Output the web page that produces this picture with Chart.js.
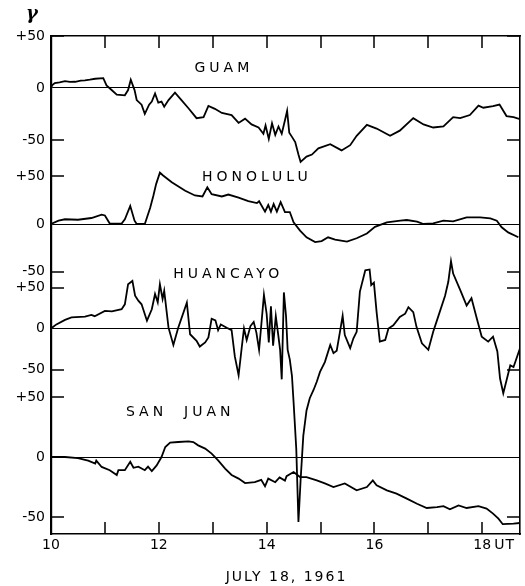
<!DOCTYPE html>
<html>
<head>
<meta charset="utf-8">
<script src="https://cdn.jsdelivr.net/npm/chart.js@4.4.1/dist/chart.umd.min.js"></script>
<style>
  html, body { margin: 0; padding: 0; background: #fff; }
  canvas { display: block; }
</style>
</head>
<body>
<canvas id="chart" width="525" height="586"></canvas>
<script>
// Magnetograms, H component (gamma) vs universal time, 18 July 1961

const guamHours = [10.00, 10.02, 10.07, 10.16, 10.26, 10.35, 10.45, 10.55, 10.63, 10.72, 10.82, 10.97, 11.03, 11.13, 11.22, 11.37, 11.43, 11.48, 11.55, 11.59,
  11.68, 11.74, 11.82, 11.87, 11.93, 11.99, 12.05, 12.10, 12.18, 12.30, 12.42, 12.55, 12.70, 12.83, 12.92, 13.04, 13.17, 13.35, 13.48, 13.60,
  13.72, 13.85, 13.94, 13.98, 14.04, 14.10, 14.16, 14.22, 14.28, 14.34, 14.38, 14.42, 14.47, 14.53, 14.59, 14.63, 14.74, 14.84, 14.96, 15.18,
  15.39, 15.55, 15.67, 15.86, 16.04, 16.29, 16.47, 16.72, 16.91, 17.09, 17.28, 17.46, 17.59, 17.77, 17.93, 18.02, 18.20, 18.32, 18.45, 18.58, 18.70];
const guamGamma = [0, 2.5, 4.7, 5.5, 6.6, 5.8, 6, 7, 7.3, 8, 8.9, 9.4, 2.5, -2.2, -6.3, -7, -2, 7.9, -2, -11.6,
  -16, -24.8, -16, -13, -5.3, -14, -13, -18, -11.6, -4.4, -11.6, -19.5, -29, -28, -17.3, -20, -24, -26, -33.6, -29.5,
  -35, -38, -44, -36, -49, -34, -45, -37, -44, -31, -22, -43, -47, -52, -64, -71, -66, -64, -58, -54,
  -60, -55, -46, -35.5, -39, -46, -41, -29, -35, -38, -37, -28, -29, -26, -17, -19, -17.5, -16, -27, -28, -30];

const honoluluHours = [10.00, 10.14, 10.26, 10.50, 10.75, 10.94, 11.00, 11.09, 11.31, 11.37, 11.47, 11.55, 11.59, 11.74, 11.84, 11.90, 11.95, 12.02, 12.08, 12.24,
  12.49, 12.67, 12.81, 12.90, 12.98, 13.17, 13.29, 13.48, 13.66, 13.82, 13.86, 13.97, 14.03, 14.08, 14.13, 14.19, 14.26, 14.34, 14.43, 14.50,
  14.62, 14.74, 14.90, 15.02, 15.14, 15.27, 15.49, 15.67, 15.86, 16.01, 16.23, 16.48, 16.60, 16.79, 16.91, 17.09, 17.28, 17.46, 17.71, 17.96,
  18.15, 18.27, 18.36, 18.48, 18.67];
const honoluluGamma = [0, 3.5, 5, 4.5, 6.3, 9.8, 9, 0.5, 0.5, 5, 19, 3.5, 0, 0, 17, 30, 42, 54, 51, 44,
  35, 30, 29, 38.6, 31.4, 29, 31, 27.7, 24, 22, 24, 13, 20, 13, 21, 13, 23, 12.6, 12.6, 1.7,
  -7, -14, -19, -18, -14, -16.5, -18.6, -15, -10, -3, 1.8, 3.5, 4.2, 2.5, 0, 0.7, 3.5, 2.8, 7, 7,
  6, 3.5, -3.5, -8.8, -14];

const huancayoHours = [10.00, 10.10, 10.26, 10.38, 10.63, 10.75, 10.81, 11.00, 11.13, 11.31, 11.37, 11.43, 11.51, 11.56, 11.62, 11.68, 11.78, 11.87, 11.93, 11.98,
  12.02, 12.07, 12.10, 12.18, 12.27, 12.36, 12.52, 12.58, 12.70, 12.76, 12.86, 12.92, 12.98, 13.05, 13.10, 13.15, 13.26, 13.35, 13.41, 13.48,
  13.54, 13.58, 13.63, 13.70, 13.76, 13.81, 13.86, 13.91, 13.95, 14.00, 14.04, 14.08, 14.12, 14.17, 14.21, 14.25, 14.28, 14.32, 14.36, 14.39,
  14.43, 14.47, 14.50, 14.55, 14.59, 14.63, 14.68, 14.74, 14.80, 14.87, 14.93, 14.99, 15.08, 15.18, 15.24, 15.30, 15.36, 15.41, 15.45, 15.55,
  15.61, 15.67, 15.73, 15.83, 15.91, 15.94, 15.99, 16.04, 16.10, 16.20, 16.26, 16.35, 16.47, 16.57, 16.63, 16.72, 16.78, 16.88, 17.00, 17.09,
  17.19, 17.31, 17.37, 17.42, 17.46, 17.59, 17.71, 17.80, 17.90, 17.99, 18.11, 18.20, 18.28, 18.33, 18.39, 18.52, 18.58, 18.70];
const huancayoGamma = [0, 5, 10.5, 13.5, 14.5, 16.5, 15, 21.5, 21, 23.5, 29.5, 54, 58, 40, 34, 29.5, 9.5, 23.5, 42, 32,
  54, 36, 46, 1, -20, 1, 31.5, -7, -15, -22, -17, -11, 12, 10, -2, 5, 1, -2, -34, -57,
  -22, 0, -14, 3, 8, -5, -26, 11, 41, 18, -17, 27, -21, 15, -5, -26, -62, 44, 15, -26,
  -38, -58, -90, -147, -236, -185, -131, -100, -85, -75, -65, -53, -41, -20, -30, -27, -4, 15.5, -8, -24,
  -12, -4, 45, 71, 72, 53, 56, 20, -16, -14, 0, 4, 14, 18, 26, 20, 2, -18, -26, -4,
  16, 40, 57, 82, 67, 47, 28, 37, 12, -10, -16, -10, -28, -61, -79, -45, -47, -24];

const sanJuanHours = [10.00, 10.26, 10.50, 10.69, 10.82, 10.84, 10.94, 11.09, 11.22, 11.25, 11.37, 11.47, 11.53, 11.62, 11.74, 11.80, 11.87, 11.96, 12.05, 12.12,
  12.21, 12.36, 12.55, 12.64, 12.73, 12.86, 12.98, 13.10, 13.23, 13.35, 13.48, 13.60, 13.78, 13.90, 13.97, 14.03, 14.16, 14.24, 14.34, 14.37,
  14.50, 14.62, 14.74, 14.93, 15.08, 15.24, 15.45, 15.67, 15.86, 15.97, 16.04, 16.23, 16.41, 16.60, 16.79, 16.97, 17.16, 17.28, 17.40, 17.56,
  17.71, 17.93, 18.08, 18.20, 18.30, 18.38, 18.58, 18.70];
const sanJuanGamma = [0, 0, -1, -3, -5.5, -3, -8.3, -11, -15, -11, -11, -4, -9, -8, -11, -8, -11.7, -7, 0, 8.3,
  12, 12.5, 13, 12.5, 9.7, 7, 2.8, -2.8, -9.7, -15, -18, -21.7, -21, -19, -24.4, -18, -21, -17, -19.7, -16,
  -12.5, -16.7, -16.7, -19.5, -22, -25, -22, -27.8, -25, -19.5, -23.6, -27.8, -30.5, -34.7, -39, -42.5, -41.7, -41, -43.6, -40.3,
  -42.5, -41, -43, -47.2, -51.4, -56, -55.5, -55];

const stationNames = ['GUAM', 'HONOLULU', 'HUANCAYO', 'SAN  JUAN'];
const yTickGammas = [50, 0, -50];
const xTickHours = [10, 11, 12, 13, 14, 15, 16, 17, 18];

// each trace sits on one shared vertical axis: zero = where its baseline is, scale = axis units per gamma
const panels = [
  { hours: guamHours, gamma: guamGamma, zero: 446, scale: 1.04, nameAt: [13.17, 466] },
  { hours: honoluluHours, gamma: honoluluGamma, zero: 310, scale: 0.95, nameAt: [13.78, 357] },
  { hours: huancayoHours, gamma: huancayoGamma, zero: 205.5, scale: 0.82, nameAt: [13.25, 260] },
  { hours: sanJuanHours, gamma: sanJuanGamma, zero: 77, scale: 1.2, nameAt: [12.36, 122] }
];

const yTicks = [];
panels.forEach(p => {
  yTickGammas.forEach(g => {
    yTicks.push({ value: p.zero + g * p.scale, text: g > 0 ? '+' + g : String(g), zero: g === 0 });
  });
});

const datasets = panels.map((p, i) => ({
  label: stationNames[i],
  data: p.hours.map((h, j) => ({ x: h, y: p.zero + p.gamma[j] * p.scale })),
  borderColor: '#000',
  borderWidth: 1.8,
  pointRadius: 0,
  tension: 0,
  fill: false,
  xAxisID: 'x',
  yAxisID: 'y'
}));

const FONT = '"DejaVu Sans", sans-serif';

// inward tick marks on all four sides
const inwardTicks = {
  id: 'inwardTicks',
  afterDatasetsDraw(chart) {
    const { ctx, chartArea: a, scales } = chart;
    const x = scales.x, y = scales.y;
    ctx.save();
    ctx.fillStyle = '#000';
    xTickHours.slice(1).forEach(h => {
      const px = Math.round(x.getPixelForValue(h));
      ctx.fillRect(px - 0.75, a.top, 1.5, 12);
      ctx.fillRect(px - 0.75, a.bottom - 12, 1.5, 12);
    });
    yTicks.filter(t => !t.zero).forEach(t => {
      const py = Math.round(y.getPixelForValue(t.value));
      ctx.fillRect(a.left, py - 0.75, 13, 1.5);
      ctx.fillRect(a.right - 13, py - 0.75, 13, 1.5);
    });
    ctx.restore();
  }
};

// lettering: station names, date, UT, gamma symbol
const lettering = {
  id: 'lettering',
  afterDraw(chart) {
    const { ctx, chartArea: a, scales } = chart;
    const x = scales.x, y = scales.y;
    ctx.save();
    ctx.fillStyle = '#000';
    ctx.textBaseline = 'middle';
    ctx.textAlign = 'center';
    ctx.font = '14px ' + FONT;
    ctx.letterSpacing = '4px';
    panels.forEach((p, i) => {
      ctx.fillText(stationNames[i], x.getPixelForValue(p.nameAt[0]) + 2, y.getPixelForValue(p.nameAt[1]));
    });
    ctx.letterSpacing = '2px';
    ctx.fillText('JULY 18, 1961', (a.left + a.right) / 2 + 1, chart.height - 9);
    ctx.letterSpacing = '1px';
    ctx.textAlign = 'left';
    ctx.fillText('UT', x.getPixelForValue(18) + 12, a.bottom + 11);
    ctx.letterSpacing = '0px';
    ctx.textAlign = 'center';
    ctx.font = 'bold italic 18px "DejaVu Serif", serif';
    ctx.fillText('γ', 32, 14);
    ctx.restore();
  }
};

// plain axes used only to draw the top and right edges of the frame
const edgeAxis = (position, min, max) => ({
  type: 'linear',
  position,
  min,
  max,
  afterFit: scale => {
    if (position === 'top') scale.height = 0; else scale.width = 0;
  },
  ticks: { display: false },
  grid: { drawOnChartArea: false, drawTicks: false },
  border: { display: true, color: '#000', width: 1.6 }
});

new Chart(document.getElementById('chart'), {
  type: 'line',
  data: { datasets },
  options: {
    responsive: false,
    animation: false,
    layout: { padding: { top: 36, right: 5, left: 0, bottom: 0 } },
    plugins: { legend: { display: false }, tooltip: { enabled: false } },
    scales: {
      x: {
        type: 'linear',
        position: 'bottom',
        min: 10,
        max: 18.7,
        afterBuildTicks: scale => { scale.ticks = xTickHours.map(v => ({ value: v })); },
        afterFit: scale => { scale.height = 52; },
        grid: { drawOnChartArea: false, drawTicks: false },
        border: { display: true, color: '#000', width: 1.6 },
        ticks: {
          autoSkip: false,
          maxRotation: 0,
          padding: 3,
          color: '#000',
          font: { family: FONT, size: 14 },
          callback: v => (v % 2 === 0 ? String(v) : '')
        }
      },
      y: {
        type: 'linear',
        position: 'left',
        min: 0,
        max: 498,
        afterBuildTicks: scale => { scale.ticks = yTicks.map(t => ({ value: t.value })); },
        afterFit: scale => { scale.width = 51; },
        grid: {
          drawTicks: false,
          lineWidth: 1,
          color: c => (yTicks[c.index] && yTicks[c.index].zero ? '#000' : 'rgba(0,0,0,0)')
        },
        border: { display: true, color: '#000', width: 2.2 },
        ticks: {
          autoSkip: false,
          padding: 6,
          color: '#000',
          font: { family: FONT, size: 14 },
          callback: (v, i) => yTicks[i].text
        }
      },
      xTop: edgeAxis('top', 10, 18.7),
      yRight: edgeAxis('right', 0, 498)
    }
  },
  plugins: [inwardTicks, lettering]
});
</script>
</body>
</html>
